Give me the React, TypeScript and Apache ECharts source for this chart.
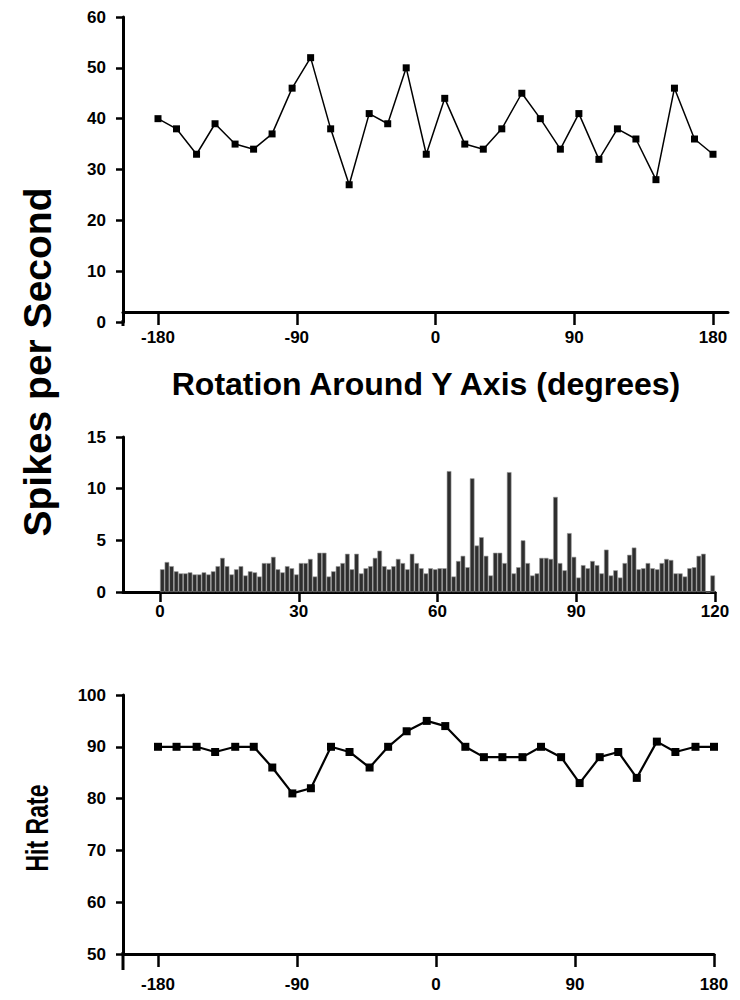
import React, { useEffect, useRef } from "react";
import * as echarts from "echarts";

// ---- data ----
const angles = [-180, -168, -155, -143, -130, -118, -106, -93, -81, -68, -56, -43, -31, -19, -6, 6, 19, 31, 43, 56, 68, 81, 93, 106, 118, 130, 143, 155, 168, 180];
const spikesPerSecond = [40, 38, 33, 39, 35, 34, 37, 46, 52, 38, 27, 41, 39, 50, 33, 44, 35, 34, 38, 45, 40, 34, 41, 32, 38, 36, 28, 46, 36, 33];
const hitRate = [90, 90, 90, 89, 90, 90, 86, 81, 82, 90, 89, 86, 90, 93, 95, 94, 90, 88, 88, 88, 90, 88, 83, 88, 89, 84, 91, 89, 90, 90];
const histValues = [
  2.2, 2.9, 2.5, 2.0, 1.8, 1.8, 1.9, 1.7, 1.7, 1.9,
  1.7, 2.0, 2.5, 3.3, 2.5, 1.7, 2.2, 2.5, 1.6, 2.0,
  1.9, 1.5, 2.8, 2.8, 3.4, 2.2, 1.9, 2.5, 2.3, 1.7,
  2.8, 2.8, 3.2, 1.5, 3.8, 3.8, 1.5, 2.0, 2.5, 2.8,
  3.7, 2.2, 3.7, 1.8, 2.3, 2.5, 3.3, 4.0, 2.5, 2.2,
  2.5, 3.2, 2.8, 2.2, 3.7, 2.8, 2.3, 1.8, 2.3, 2.2,
  2.3, 2.3, 11.7, 1.5, 3.0, 3.5, 2.4, 11.0, 4.5, 5.3,
  3.5, 1.6, 3.8, 3.8, 2.8, 11.6, 1.8, 2.4, 5.0, 2.8,
  1.6, 1.8, 3.3, 3.3, 3.2, 9.2, 2.8, 2.1, 5.7, 3.4,
  1.4, 2.6, 2.3, 3.0, 2.6, 1.8, 4.1, 1.6, 2.1, 1.4,
  2.8, 3.6, 4.3, 2.2, 2.3, 2.8, 2.3, 2.2, 2.8, 3.2,
  3.1, 1.8, 1.8, 1.5, 2.3, 2.4, 3.5, 3.7, 0, 1.6,
];
const angleRange = [-180, 180, 90];
const timeRange = [0, 120, 30];
const spikesRange = [0, 60, 10];
const histRange = [0, 15, 5];
const hitRange = [50, 100, 10];
const titles = ["Spikes per Second", "Rotation Around Y Axis (degrees)", "Hit Rate"];

const FONT = "'Liberation Sans', Arial, Helvetica, sans-serif";
const label = (margin: number) => ({ show: true, color: "#000", fontSize: 17, fontWeight: "bold", fontFamily: FONT, margin });
const black = "#000";

const frameX = (gridIndex: number) => ({
  gridIndex, type: "value", min: 0, max: 1,
  axisLine: { show: true, lineStyle: { color: black, width: 3 } },
  axisTick: { show: false }, axisLabel: { show: false }, splitLine: { show: false },
});
const dataX = (gridIndex: number, r: number[], tickLen: number, margin: number) => ({
  gridIndex, type: "value", min: r[0], max: r[1], interval: r[2],
  axisLine: { show: false },
  axisTick: { show: true, length: tickLen, lineStyle: { color: black, width: 2.5 } },
  axisLabel: label(margin), splitLine: { show: false },
});
const frameY = (gridIndex: number, r: number[]) => ({
  gridIndex, type: "value", min: r[0], max: r[1], interval: r[2],
  axisLine: { show: true, lineStyle: { color: black, width: 3 } },
  axisTick: { show: true, length: 7, lineStyle: { color: black, width: 2.5 } },
  axisLabel: label(17), splitLine: { show: false },
});
const hiddenY = (gridIndex: number, min: number, max: number) => ({ gridIndex, type: "value", min, max, show: false });

export default function App() {
  const ref = useRef<HTMLDivElement>(null);
  useEffect(() => {
    if (!ref.current) return;
    const chart = echarts.init(ref.current, undefined, { renderer: "svg" });
    const topH = 305, topLineH = 295;
    chart.setOption({
      animation: false,
      backgroundColor: "#fff",
      grid: [
        { left: 123, top: 17, width: 605, height: topH },
        { left: 123, top: 17, width: 605, height: topLineH },
        { left: 158, top: 17, width: 555, height: topLineH },
        { left: 123, top: 437, width: 592, height: 155 },
        { left: 160, top: 437, width: 555, height: 155 },
        { left: 123, top: 695, width: 591, height: 259 },
        { left: 158, top: 695, width: 556, height: 259 },
      ],
      xAxis: [
        { gridIndex: 0, type: "value", min: 0, max: 1, show: false },
        frameX(1),
        dataX(2, angleRange, 13, 17),
        frameX(3),
        dataX(4, timeRange, 10, 11),
        frameX(5),
        dataX(6, angleRange, 13, 22),
      ],
      yAxis: [
        frameY(0, spikesRange),
        hiddenY(1, 0, 1),
        hiddenY(2, spikesRange[1] - (spikesRange[1] - spikesRange[0]) * topLineH / topH, spikesRange[1]),
        frameY(3, histRange),
        hiddenY(4, histRange[0], histRange[1]),
        frameY(5, hitRange),
        hiddenY(6, hitRange[0], hitRange[1]),
      ],
      series: [
        {
          type: "line", xAxisIndex: 2, yAxisIndex: 2, clip: false,
          data: angles.map((a, i) => [a, spikesPerSecond[i]]),
          symbol: "rect", symbolSize: 7, showSymbol: true,
          lineStyle: { color: black, width: 1.5 }, itemStyle: { color: black },
        },
        {
          type: "bar", xAxisIndex: 4, yAxisIndex: 4,
          data: histValues.map((v, i) => [i + 0.5, v]),
          barWidth: 4.6, itemStyle: { color: "#2e2e2e", borderColor: "#9a9a9a", borderWidth: 0.6 },
        },
        {
          type: "line", xAxisIndex: 6, yAxisIndex: 6, clip: false,
          data: angles.map((a, i) => [a, hitRate[i]]),
          symbol: "rect", symbolSize: 8, showSymbol: true,
          lineStyle: { color: black, width: 2.2 }, itemStyle: { color: black },
        },
      ],
      graphic: [
        { type: "line", silent: true, shape: { x1: 123, y1: 320, x2: 123, y2: 326 }, style: { stroke: black, lineWidth: 3 } },
        { type: "line", silent: true, shape: { x1: 123, y1: 952, x2: 123, y2: 970 }, style: { stroke: black, lineWidth: 3 } },
        { type: "text", x: 37, y: 362, rotation: Math.PI / 2, style: { text: titles[0], fill: black, font: `bold 39px ${FONT}`, align: "center", verticalAlign: "middle" } },
        { type: "text", x: 426, y: 384, style: { text: titles[1], fill: black, font: `bold 32px ${FONT}`, align: "center", verticalAlign: "middle" } },
        { type: "text", x: 37, y: 828, rotation: Math.PI / 2, scaleX: 0.72, style: { text: titles[2], fill: black, font: `bold 32px ${FONT}`, align: "center", verticalAlign: "middle" } },
      ],
    });
    return () => chart.dispose();
  }, []);
  return <div ref={ref} style={{ position: "absolute", left: 0, top: 0, width: 740, height: 1000, background: "#fff" }} />;
}
